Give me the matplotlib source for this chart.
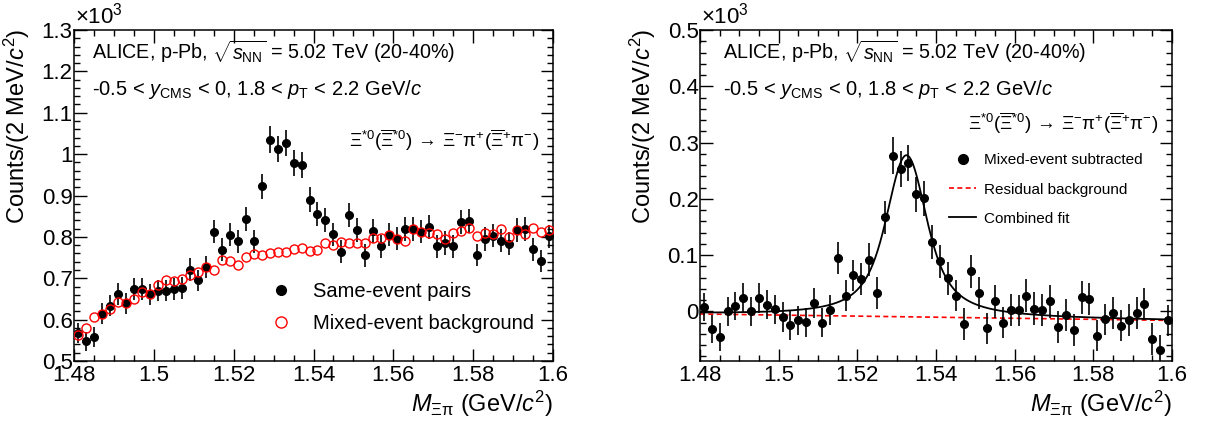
import numpy as np
import matplotlib
matplotlib.use('Agg')
import matplotlib.pyplot as plt
from matplotlib.lines import Line2D
from matplotlib.ticker import MultipleLocator, FuncFormatter

plt.rcParams['font.family'] = ['Liberation Sans', 'DejaVu Sans']
plt.rcParams['mathtext.fontset'] = 'custom'
plt.rcParams['mathtext.rm'] = 'Liberation Sans'
plt.rcParams['mathtext.it'] = 'Liberation Sans:italic'
plt.rcParams['mathtext.bf'] = 'Liberation Sans:bold'

# 2 MeV bins from 1.48 to 1.60 GeV/c^2
bin_width = 0.002
m_bins = np.arange(1.48 + bin_width / 2, 1.60, bin_width)

# left panel: same-event pairs and mixed-event background (x10^3 counts)
same_event = [0.568, 0.548, 0.559, 0.614, 0.634, 0.662, 0.639, 0.674, 0.674, 0.661,
              0.670, 0.670, 0.674, 0.677, 0.721, 0.695, 0.727, 0.812, 0.769, 0.805,
              0.789, 0.842, 0.789, 0.922, 1.035, 1.013, 1.027, 0.978, 0.973, 0.890,
              0.856, 0.840, 0.806, 0.764, 0.854, 0.816, 0.755, 0.814, 0.777, 0.805,
              0.796, 0.818, 0.818, 0.812, 0.824, 0.777, 0.785, 0.777, 0.836, 0.839,
              0.756, 0.795, 0.803, 0.791, 0.783, 0.816, 0.819, 0.770, 0.741, 0.801]
same_err = [0.024, 0.023, 0.024, 0.025, 0.025, 0.026, 0.025, 0.026, 0.026, 0.026,
            0.026, 0.026, 0.026, 0.026, 0.027, 0.026, 0.027, 0.028, 0.028, 0.028,
            0.028, 0.029, 0.028, 0.030, 0.032, 0.032, 0.032, 0.031, 0.031, 0.030,
            0.029, 0.029, 0.028, 0.028, 0.029, 0.029, 0.027, 0.029, 0.028, 0.028,
            0.028, 0.029, 0.029, 0.028, 0.029, 0.028, 0.028, 0.028, 0.029, 0.029,
            0.027, 0.028, 0.028, 0.028, 0.028, 0.029, 0.029, 0.028, 0.027, 0.028]
mixed_event = [0.564, 0.580, 0.607, 0.614, 0.625, 0.642, 0.639, 0.651, 0.666, 0.662,
               0.683, 0.695, 0.693, 0.699, 0.707, 0.715, 0.727, 0.719, 0.744, 0.742,
               0.732, 0.752, 0.758, 0.756, 0.760, 0.763, 0.764, 0.770, 0.772, 0.767,
               0.768, 0.784, 0.780, 0.788, 0.784, 0.786, 0.786, 0.798, 0.798, 0.805,
               0.795, 0.791, 0.818, 0.811, 0.809, 0.806, 0.794, 0.809, 0.814, 0.821,
               0.802, 0.809, 0.808, 0.819, 0.800, 0.817, 0.808, 0.821, 0.811, 0.817]

# right panel: mixed-event subtracted distribution (x10^3 counts)
subtracted = [0.008, -0.031, -0.046, 0.000, 0.010, 0.024, 0.000, 0.024, 0.012, 0.004,
              -0.010, -0.024, -0.016, -0.019, 0.015, -0.020, 0.003, 0.095, 0.028, 0.064,
              0.058, 0.092, 0.033, 0.167, 0.277, 0.253, 0.264, 0.208, 0.201, 0.124,
              0.089, 0.059, 0.028, -0.022, 0.071, 0.033, -0.030, 0.018, -0.020, 0.003,
              0.002, 0.028, 0.005, 0.003, 0.018, -0.028, -0.006, -0.033, 0.025, 0.022,
              -0.043, -0.014, -0.003, -0.025, -0.015, -0.003, 0.013, -0.049, -0.068, -0.016]
sub_err = [0.025, 0.025, 0.025, 0.025, 0.025, 0.026, 0.025, 0.026, 0.026, 0.026,
           0.026, 0.026, 0.026, 0.026, 0.027, 0.026, 0.027, 0.028, 0.028, 0.028,
           0.028, 0.029, 0.028, 0.030, 0.033, 0.032, 0.032, 0.031, 0.031, 0.030,
           0.029, 0.029, 0.028, 0.028, 0.029, 0.029, 0.027, 0.029, 0.028, 0.028,
           0.028, 0.029, 0.029, 0.028, 0.029, 0.028, 0.028, 0.028, 0.029, 0.029,
           0.027, 0.028, 0.028, 0.028, 0.028, 0.029, 0.029, 0.028, 0.027, 0.028]

# fit parameters (Voigtian peak + linear residual background)
fit_mass = 1.5325
fit_gamma = 0.0091
fit_sigma = 0.0027
fit_amp = 0.287
bg_at_lo = -0.0045
bg_slope = -0.095


def voigt_shape(x, m, gamma, sigma):
    t = np.linspace(-5 * sigma, 5 * sigma, 401)
    g = np.exp(-0.5 * (t / sigma) ** 2)
    hw = gamma / 2
    lor = hw ** 2 / ((x[:, None] - m - t[None, :]) ** 2 + hw ** 2)
    v = (lor * g).sum(axis=1)
    return v / v.max()


def fmt(v, pos):
    return f"{round(v, 6) + 0.0:g}"


def style_axes(ax, ymin, ymax):
    ax.set_xlim(1.48, 1.60)
    ax.set_ylim(ymin, ymax)
    ax.xaxis.set_major_locator(MultipleLocator(0.02))
    ax.xaxis.set_minor_locator(MultipleLocator(0.005))
    ax.yaxis.set_major_locator(MultipleLocator(0.1))
    ax.yaxis.set_minor_locator(MultipleLocator(0.02))
    ax.xaxis.set_major_formatter(FuncFormatter(fmt))
    ax.yaxis.set_major_formatter(FuncFormatter(fmt))
    ax.tick_params(which='both', direction='in', top=True, right=True,
                   labelsize=16, width=1.0, color='black')
    ax.tick_params(which='major', length=9)
    ax.tick_params(which='minor', length=4.5)
    ax.tick_params(axis='x', pad=3)
    ax.tick_params(axis='y', pad=1.0)
    for s in ax.spines.values():
        s.set_linewidth(1.1)
    ax.set_ylabel(r"Counts/(2 MeV/$c^{2}$)", fontsize=17, loc='top')
    ax.yaxis.set_label_coords(-0.088, 1.005)
    ax.set_xlabel(r"$M_{\Xi\mathrm{\pi}}$ (GeV/$c^{2}$)", fontsize=17, loc='right')
    ax.xaxis.set_label_coords(1.0, -0.085)
    ax.xaxis.label.set_va('top')
    ax.text(0.002, 1.006, r"$\times$10$^{3}$", transform=ax.transAxes,
            ha='left', va='bottom', fontsize=16)


text_alice = r"ALICE, p-Pb, $\sqrt{s_{\mathrm{NN}}}$ = 5.02 TeV (20-40%)"
text_kin = r"-0.5 < $y_{\mathrm{CMS}}$ < 0, 1.8 < $p_{\mathrm{T}}$ < 2.2 GeV/$c$"
text_decay = (r"$\Xi^{*0}(\overline{\Xi}^{*0})\,\rightarrow\,\Xi^{-}\mathrm{\pi}^{+}"
              r"(\overline{\Xi}^{+}\mathrm{\pi}^{-})$")

fig = plt.figure(figsize=(12.1, 4.23), dpi=100)

# ---- left panel ----
ax1 = fig.add_axes([0.06116, 0.14657, 0.39587, 0.78251])
style_axes(ax1, 0.5, 1.3)
ax1.errorbar(m_bins, same_event, yerr=same_err, xerr=bin_width / 2, fmt='o',
             color='black', markersize=5.5, elinewidth=1.2, capsize=0, zorder=3)
ax1.plot(m_bins, mixed_event, 'o', mfc='none', mec='red', markersize=6.5,
         mew=1.0, zorder=4)
ax1.text(0.0376, 0.911, text_alice, transform=ax1.transAxes, fontsize=14.2,
         ha='left', va='baseline')
ax1.text(0.0376, 0.8036, text_kin, transform=ax1.transAxes, fontsize=14.5,
         ha='left', va='baseline')
ax1.text(0.971, 0.647, text_decay, transform=ax1.transAxes, fontsize=13.5,
         ha='right', va='baseline')
h_same = Line2D([], [], ls='none', marker='o', color='black', markersize=7)
h_mixed = Line2D([], [], ls='none', marker='o', mfc='none', mec='red',
                 markersize=8, mew=1.0)
ax1.legend([h_same, h_mixed], ['Same-event pairs', 'Mixed-event background'],
           loc='center left', bbox_to_anchor=(0.411, 0.1616), frameon=False,
           fontsize=14.5, handlelength=1.0, handletextpad=1.09,
           labelspacing=0.62, borderpad=0, borderaxespad=0)

# ---- right panel ----
ax2 = fig.add_axes([0.57851, 0.14657, 0.39008, 0.78251])
style_axes(ax2, -0.088, 0.5)
x_fit = np.linspace(1.48, 1.60, 800)
bg_fit = bg_at_lo + bg_slope * (x_fit - 1.48)
comb_fit = bg_fit + fit_amp * voigt_shape(x_fit, fit_mass, fit_gamma, fit_sigma)
ax2.plot(x_fit, bg_fit, color='red', ls=(0, (3, 2)), lw=1.2, zorder=2)
ax2.plot(x_fit, comb_fit, color='black', lw=1.3, zorder=2)
ax2.errorbar(m_bins, subtracted, yerr=sub_err, xerr=bin_width / 2, fmt='o',
             color='black', markersize=5.5, elinewidth=1.2, capsize=0, zorder=3)
ax2.text(0.0487, 0.911, text_alice, transform=ax2.transAxes, fontsize=14.2,
         ha='left', va='baseline')
ax2.text(0.0487, 0.8036, text_kin, transform=ax2.transAxes, fontsize=14.5,
         ha='left', va='baseline')
ax2.text(0.9716, 0.698, text_decay, transform=ax2.transAxes, fontsize=13.5,
         ha='right', va='baseline')
h_sub = Line2D([], [], ls='none', marker='o', color='black', markersize=7)
h_bg = Line2D([], [], color='red', ls=(0, (3, 2)), lw=1.2)
h_fit = Line2D([], [], color='black', lw=1.3)
ax2.legend([h_sub, h_bg, h_fit],
           ['Mixed-event subtracted', 'Residual background', 'Combined fit'],
           loc='center left', bbox_to_anchor=(0.5275, 0.518), frameon=False,
           fontsize=11, handlelength=1.78, handletextpad=0.48,
           labelspacing=0.99, borderpad=0, borderaxespad=0)

fig.savefig('out.png', dpi=100)
